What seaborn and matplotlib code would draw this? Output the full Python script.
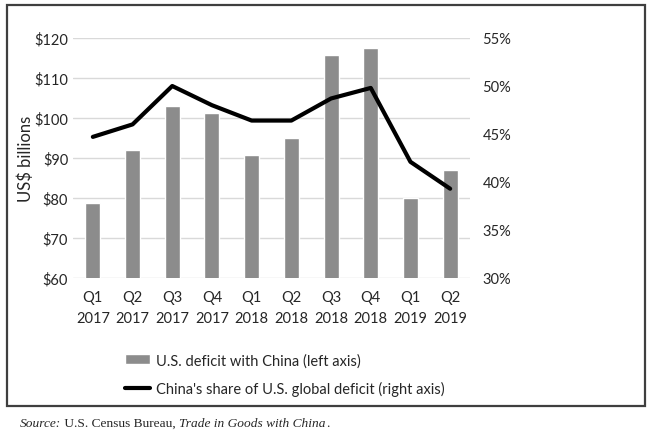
import matplotlib
matplotlib.use('Agg')
import matplotlib.pyplot as plt
import numpy as np
import seaborn as sns
from matplotlib.patches import Rectangle

quarters = ['Q1\n2017', 'Q2\n2017', 'Q3\n2017', 'Q4\n2017', 'Q1\n2018',
            'Q2\n2018', 'Q3\n2018', 'Q4\n2018', 'Q1\n2019', 'Q2\n2019']
deficit = [78.8, 91.9, 102.9, 101.3, 90.8, 95.0, 115.7, 117.6, 79.9, 86.9]
share = [44.7, 46.0, 50.0, 48.0, 46.4, 46.4, 48.7, 49.8, 42.1, 39.3]
left_ticks = [60, 70, 80, 90, 100, 110, 120]
right_ticks = [30, 35, 40, 45, 50, 55]

sns.set_style('white')
plt.rcParams['font.family'] = ['Lato', 'DejaVu Sans']
fs = 10.5

fig = plt.figure(figsize=(6.51, 4.35), dpi=100)
ax = fig.add_axes([73 / 651, 1 - 279 / 435, 397 / 651, 240 / 435])

sns.barplot(x=quarters, y=deficit, color='#8c8c8c', saturation=1, width=0.38,
            ax=ax, label='U.S. deficit with China (left axis)', zorder=2)
ax.set_ylim(60, 120)
ax.set_yticks(left_ticks)
ax.set_yticklabels([f'${v}' for v in left_ticks], fontsize=fs)
ax.yaxis.grid(True, color='#d9d9d9', linewidth=1)
ax.set_axisbelow(True)
ax.set_xlim(-0.5, 9.5)
ax.tick_params(axis='both', length=0, labelsize=fs)
ax.tick_params(axis='x', pad=9)
for lab in ax.get_xticklabels():
    lab.set_linespacing(1.55)
ax.set_ylabel('US$ billions', fontsize=12, va='center')
ax.yaxis.set_label_coords(-47 / 397, 0.5)
ax.set_xlabel('')
for s in ax.spines.values():
    s.set_visible(False)

ax2 = ax.twinx()
sns.lineplot(x=np.arange(len(quarters)), y=share, color='black', linewidth=3,
             ax=ax2, label="China's share of U.S. global deficit (right axis)")
ax2.set_ylim(30, 55)
ax2.set_yticks(right_ticks)
ax2.set_yticklabels([f'{v}%' for v in right_ticks], fontsize=fs)
ax2.tick_params(axis='y', length=0, pad=9)
ax2.set_ylabel('')
for s in ax2.spines.values():
    s.set_visible(False)
ax2.get_legend().remove()
if ax.get_legend():
    ax.get_legend().remove()

h1, l1 = ax.get_legend_handles_labels()
h2, l2 = ax2.get_legend_handles_labels()
fig.legend(h1 + h2, l1 + l2, loc='upper left',
           bbox_to_anchor=(112 / 651, 1 - 341 / 435), frameon=False,
           fontsize=fs, handlelength=1.7, handletextpad=0.4, labelspacing=0.9)

fig.patches.append(Rectangle((7 / 651, 1 - 407 / 435), 638 / 651, 401 / 435,
                             transform=fig.transFigure, fill=False,
                             edgecolor='#3f3f3f', linewidth=1.6))

# source line with mixed italic
serif = 'Liberation Serif'
parts = [('Source:', 'italic'), (' U.S. Census Bureau, ', 'normal'),
         ('Trade in Goods with China', 'italic'), ('.', 'normal')]
fig.canvas.draw()
renderer = fig.canvas.get_renderer()
x = 20 / 651
for txt, style in parts:
    t = fig.text(x, 1 - 424 / 435, txt, family=serif, style=style,
                 fontsize=9.6, va='center', ha='left')
    bb = t.get_window_extent(renderer)
    x = bb.x1 / fig.bbox.width

fig.savefig('out.png', dpi=100)
